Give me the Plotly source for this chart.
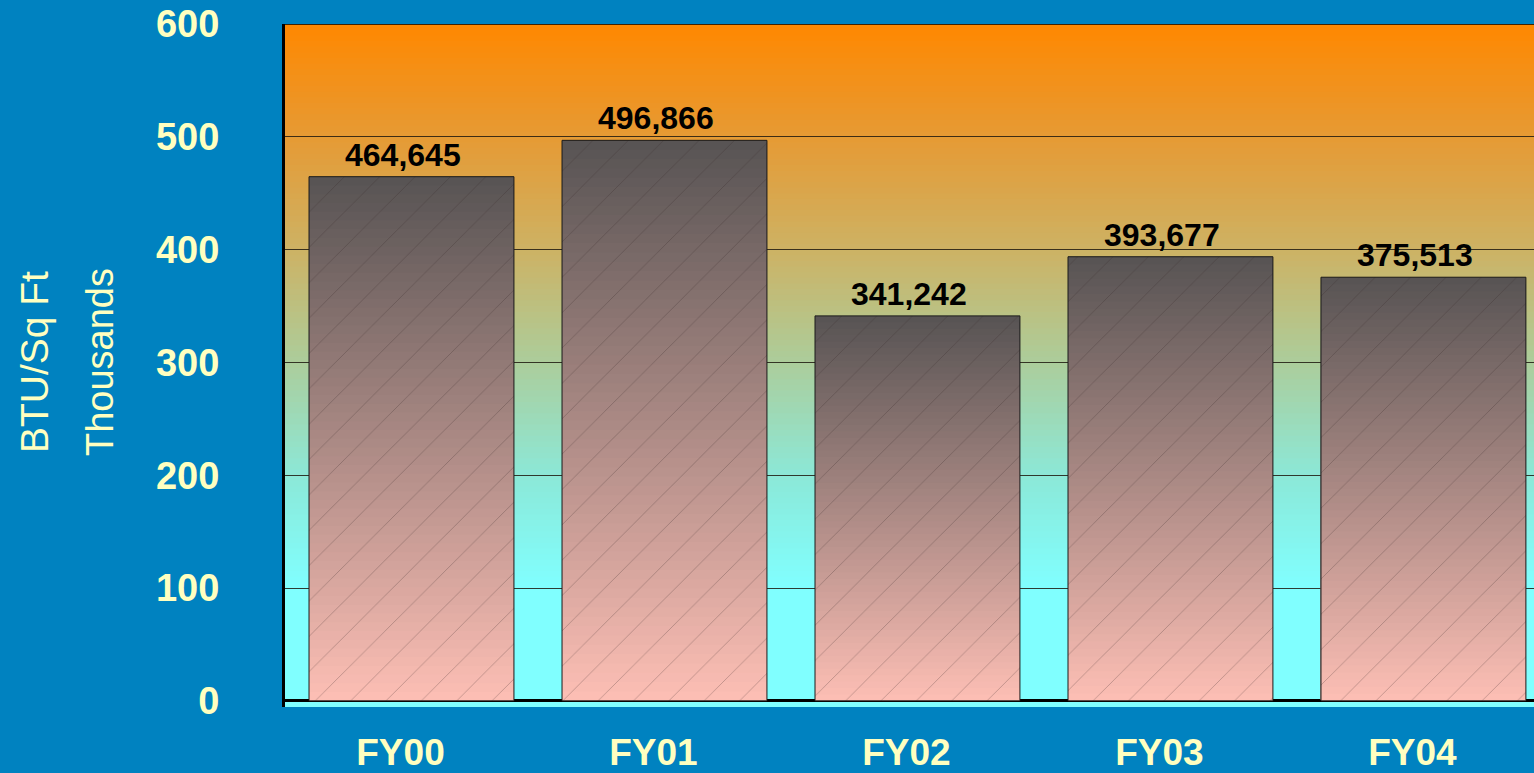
import plotly.graph_objects as go

categories = ["FY00", "FY01", "FY02", "FY03", "FY04"]
values_thousands = [464.645, 496.866, 341.242, 393.677, 375.513]
value_labels = ["464,645", "496,866", "341,242", "393,677", "375,513"]
y_ticks = [0, 100, 200, 300, 400, 500, 600]

W, H = 1534, 773
ML, MT, MB = 285, 24, 63
YMIN, YMAX = -5.5, 600

BG = "#0082C0"
TXT = "#FFFFC0"
FONT = "Liberation Sans, Arial, sans-serif"

fig = go.Figure()

# bar gradient: nested bars (full height first, then progressively shorter & lighter)
N = 60
top_c = (88, 84, 84)
bot_c = (252, 190, 180)
for k in range(N):
    frac = 1 - k / N
    t = k / (N - 1)
    c = tuple(int(round(top_c[i] + (bot_c[i] - top_c[i]) * t)) for i in range(3))
    fig.add_trace(go.Bar(
        x=categories, y=[v * frac for v in values_thousands],
        marker=dict(color="rgb(%d,%d,%d)" % c, line=dict(width=0)),
        hoverinfo="skip", showlegend=False,
    ))

# outline + hatch
fig.add_trace(go.Bar(
    x=categories, y=values_thousands,
    marker=dict(
        color="rgba(0,0,0,0)",
        line=dict(color="#1a1a1a", width=1),
        pattern=dict(shape="/", size=25, solidity=0.03,
                     fgcolor="rgba(50,35,35,0.35)", bgcolor="rgba(0,0,0,0)",
                     fillmode="replace"),
    ),
    showlegend=False,
))

annotations = []
for cat, v, lab in zip(categories, values_thousands, value_labels):
    annotations.append(dict(x=cat, y=v, xref="x", yref="y", text=lab, showarrow=False,
                            xanchor="center", yanchor="bottom", xshift=-8, yshift=2,
                            font=dict(family=FONT, size=32, color="black", weight="bold")))

# plot background gradient
stops = [(0, (128, 255, 255)), (100, (128, 255, 255)), (200, (140, 232, 215)),
         (300, (172, 205, 155)), (400, (205, 178, 100)), (500, (230, 154, 52)),
         (600, (255, 136, 0))]

def col_at(v):
    for (a, ca), (b, cb) in zip(stops[:-1], stops[1:]):
        if a <= v <= b:
            t = (v - a) / (b - a)
            return tuple(int(round(ca[i] + (cb[i] - ca[i]) * t)) for i in range(3))
    return stops[-1][1]

shapes = []
step = 5
for y0 in range(0, 600, step):
    c = col_at(y0 + step / 2)
    shapes.append(dict(type="rect", xref="paper", yref="y", x0=0, x1=1,
                       y0=y0, y1=min(y0 + step + 2, 600),
                       fillcolor="rgb(%d,%d,%d)" % c, line=dict(width=0), layer="below"))
shapes.append(dict(type="line", xref="paper", yref="y", x0=0, x1=1, y0=600, y1=600,
                   line=dict(color="black", width=1.5), layer="above"))

annotations += [
    dict(text="BTU/Sq Ft", xref="paper", yref="paper", x=(34 - ML) / (W - ML), y=0.505,
         xanchor="center", yanchor="middle", textangle=-90, showarrow=False,
         font=dict(family=FONT, size=39, color=TXT)),
    dict(text="Thousands", xref="paper", yref="paper", x=(100 - ML) / (W - ML), y=0.505,
         xanchor="center", yanchor="middle", textangle=-90, showarrow=False,
         font=dict(family=FONT, size=38, color=TXT)),
]

fig.update_layout(
    width=W, height=H,
    margin=dict(l=ML, r=0, t=MT, b=MB),
    paper_bgcolor=BG, plot_bgcolor="rgb(128,255,255)",
    barmode="overlay", bargap=0.19,
    shapes=shapes,
    showlegend=False,
    xaxis=dict(type="category", categoryorder="array", categoryarray=categories,
               range=[-0.5, 4.437], showgrid=False, showline=False, zeroline=False,
               ticks="", ticklabelstandoff=20, ticklabelshift=-11,
               tickfont=dict(family=FONT, size=37, color=TXT, weight="bold")),
    yaxis=dict(range=[YMIN, YMAX], tickvals=y_ticks, ticktext=[str(t) for t in y_ticks],
               showgrid=True, gridcolor="rgba(30,25,15,0.85)", gridwidth=1,
               zeroline=True, zerolinecolor="black", zerolinewidth=3,
               showline=True, linecolor="black", linewidth=3,
               ticks="", ticklabelstandoff=55,
               tickfont=dict(family=FONT, size=38, color=TXT, weight="bold")),
    annotations=annotations,
)

fig.write_html("out.html", config={"displayModeBar": False},
               post_script="document.body.style.margin='0';document.body.style.padding='0';"
                           "document.body.style.overflow='hidden';")
